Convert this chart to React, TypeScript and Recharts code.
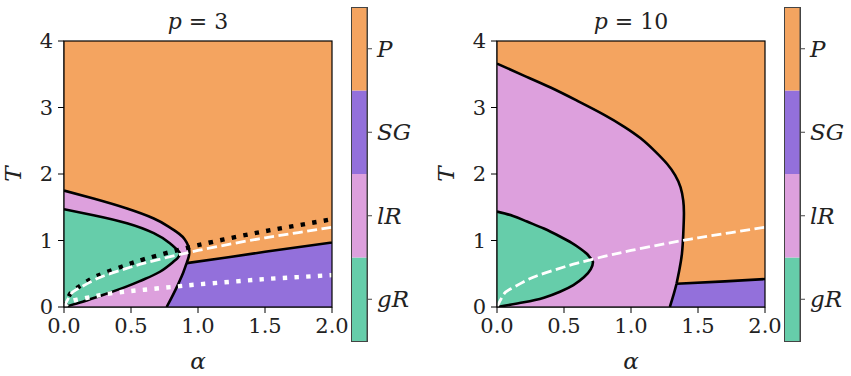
import React from 'react'
import { ComposedChart, Scatter, XAxis, YAxis, BarChart, Bar } from 'recharts'

// phase colours
const P_COLOR = '#F4A460'
const SG_COLOR = '#9370DB'
const LR_COLOR = '#DDA0DD'
const GR_COLOR = '#66CDAA'

const FONT = '"DejaVu Serif", serif'

const alphaTicks = [0, 0.5, 1, 1.5, 2]
const tempTicks = [0, 1, 2, 3, 4]
const plotBox: [number, number][] = [[0, 0], [2, 0], [2, 4], [0, 4]]

// ---- p = 3 transition lines (alpha, T) ----
const p3Para: [number, number][] = [
  [0, 1.75], [0.22, 1.63], [0.47, 1.48], [0.67, 1.33], [0.78, 1.21], [0.86, 1.1],
  [0.9, 1.02], [0.925, 0.93], [0.935, 0.84], [0.93, 0.75], [0.915, 0.66],
]
const p3SGEdge: [number, number][] = [
  [0.915, 0.66], [0.89, 0.52], [0.86, 0.38], [0.83, 0.25], [0.8, 0.13], [0.766, 0],
]
const p3SGTop: [number, number][] = [[0.915, 0.66], [1.2, 0.74], [1.5, 0.83], [2, 0.97]]
const p3Glass: [number, number][] = [
  [0, 1.47], [0.22, 1.38], [0.47, 1.26], [0.67, 1.11], [0.79, 0.96], [0.85, 0.85],
  [0.866, 0.8], [0.85, 0.74], [0.816, 0.68], [0.716, 0.53], [0.59, 0.41], [0.47, 0.31],
  [0.29, 0.18], [0.14, 0.08], [0, 0],
]

// auxiliary curves sampled on a common alpha grid
const alphaGrid = [0, 0.05, 0.1, 0.2, 0.3, 0.45, 0.6, 0.8, 1.0, 1.25, 1.5, 1.75, 2.0]
const p3BlackDotted = [0, 0.21, 0.29, 0.42, 0.51, 0.62, 0.72, 0.83, 0.93, 1.04, 1.14, 1.23, 1.32]
const whiteDashed = [0, 0.19, 0.27, 0.38, 0.47, 0.57, 0.66, 0.76, 0.85, 0.95, 1.04, 1.12, 1.2]
const p3WhiteDotted = [0, 0.08, 0.11, 0.15, 0.19, 0.23, 0.26, 0.3, 0.34, 0.38, 0.42, 0.45, 0.48]

// ---- p = 10 transition lines ----
const p10Para: [number, number][] = [
  [0, 3.66], [0.2, 3.48], [0.4, 3.3], [0.6, 3.1], [0.8, 2.89], [0.95, 2.71], [1.07, 2.54],
  [1.18, 2.34], [1.27, 2.15], [1.33, 1.98], [1.37, 1.8], [1.39, 1.6], [1.395, 1.4],
  [1.39, 1.1], [1.38, 0.8], [1.36, 0.55], [1.34, 0.35],
]
const p10SGEdge: [number, number][] = [[1.34, 0.35], [1.32, 0.2], [1.29, 0]]
const p10SGTop: [number, number][] = [[1.34, 0.35], [1.7, 0.385], [2, 0.42]]
const p10Glass: [number, number][] = [
  [0, 1.435], [0.12, 1.37], [0.224, 1.285], [0.35, 1.18], [0.47, 1.06], [0.56, 0.96],
  [0.62, 0.88], [0.67, 0.8], [0.7, 0.73], [0.716, 0.68], [0.7, 0.57], [0.65, 0.45],
  [0.57, 0.33], [0.47, 0.23], [0.35, 0.14], [0.2, 0.07], [0, 0],
]

// colour bar, bottom to top
const phaseNames = ['gR', 'lR', 'SG', 'P']
const phaseColors = [GR_COLOR, LR_COLOR, SG_COLOR, P_COLOR]
const cbarData = [{ name: 'phase', gR: 1, lR: 1, SG: 1, P: 1 }]

const rev = (pts: [number, number][]) => [...pts].reverse()
const toPts = (pts: [number, number][]) => pts.map(([a, T]) => ({ a, T }))
const curve = (ys: number[]) => ys.map((T, i) => ({ a: alphaGrid[i], T }))

type Region = { pts: { a: number; T: number }[]; color: string }
type Stroke = {
  pts: { a: number; T: number }[]
  color: string
  width: number
  dash?: string
}

const p3Regions: Region[] = [
  { pts: toPts(plotBox), color: P_COLOR },
  { pts: toPts([[0, 0], ...rev(p3SGEdge), ...rev(p3Para)]), color: LR_COLOR },
  { pts: toPts([[2, 0], ...rev(p3SGTop), ...p3SGEdge]), color: SG_COLOR },
  { pts: toPts(p3Glass), color: GR_COLOR },
]
const p3Strokes: Stroke[] = [
  { pts: toPts(p3Para), color: '#000', width: 2.6 },
  { pts: toPts(p3SGEdge), color: '#000', width: 2.6 },
  { pts: toPts(p3SGTop), color: '#000', width: 2.6 },
  { pts: toPts(p3Glass), color: '#000', width: 2.6 },
  { pts: curve(p3BlackDotted), color: '#000', width: 4.4, dash: '4.4 7.3' },
  { pts: curve(p3WhiteDotted), color: '#fff', width: 4.4, dash: '4.4 7.3' },
  { pts: curve(whiteDashed), color: '#fff', width: 2.8, dash: '10 4.5' },
]

const p10Regions: Region[] = [
  { pts: toPts(plotBox), color: P_COLOR },
  { pts: toPts([[0, 0], ...rev(p10SGEdge), ...rev(p10Para)]), color: LR_COLOR },
  { pts: toPts([[2, 0], ...rev(p10SGTop), ...p10SGEdge]), color: SG_COLOR },
  { pts: toPts(p10Glass), color: GR_COLOR },
]
const p10Strokes: Stroke[] = [
  { pts: toPts(p10Para), color: '#000', width: 2.6 },
  { pts: toPts(p10SGEdge), color: '#000', width: 2.6 },
  { pts: toPts(p10SGTop), color: '#000', width: 2.6 },
  { pts: toPts(p10Glass), color: '#000', width: 2.6 },
  { pts: curve(whiteDashed), color: '#fff', width: 2.8, dash: '10 4.5' },
]

const tickStyle = { fontFamily: FONT, fontSize: 21, fill: '#222' }
const noMarker = () => <g />

function PhasePanel({ left, regions, strokes }: { left: number; regions: Region[]; strokes: Stroke[] }) {
  return (
    <div style={{ position: 'absolute', left, top: 0 }}>
      <ComposedChart width={362} height={376} margin={{ top: 41, right: 30, bottom: 29, left: 24 }}>
        {regions.map((r, i) => (
          <Scatter
            key={'r' + i}
            data={r.pts}
            shape={noMarker}
            line={{ fill: r.color, stroke: 'none' }}
            lineType="joint"
            isAnimationActive={false}
          />
        ))}
        {strokes.map((s, i) => (
          <Scatter
            key={'s' + i}
            data={s.pts}
            shape={noMarker}
            line={{ stroke: s.color, strokeWidth: s.width, strokeDasharray: s.dash, fill: 'none' }}
            lineType="joint"
            lineJointType="natural"
            isAnimationActive={false}
          />
        ))}
        <XAxis
          dataKey="a"
          type="number"
          domain={[0, 2]}
          ticks={alphaTicks}
          allowDataOverflow
          height={40}
          tickSize={6}
          tickMargin={5}
          tickFormatter={(v: number) => v.toFixed(1)}
          tick={tickStyle}
          axisLine={{ stroke: '#000' }}
          tickLine={{ stroke: '#000' }}
        />
        <YAxis
          dataKey="T"
          type="number"
          domain={[0, 4]}
          ticks={tempTicks}
          allowDataOverflow
          width={40}
          tickSize={6}
          tickMargin={5}
          tick={tickStyle}
          axisLine={{ stroke: '#000' }}
          tickLine={{ stroke: '#000' }}
        />
      </ComposedChart>
    </div>
  )
}

function ColorBar({ left }: { left: number }) {
  return (
    <div style={{ position: 'absolute', left, top: 0 }}>
      <BarChart width={93} height={376} data={cbarData} margin={{ top: 7, right: 0, bottom: 35, left: 11 }} barCategoryGap={0}>
        <XAxis dataKey="name" hide />
        <YAxis
          orientation="right"
          type="number"
          domain={[0, 4]}
          ticks={[0.5, 1.5, 2.5, 3.5]}
          width={66}
          tickSize={5}
          tickMargin={5}
          tickFormatter={(v: number) => phaseNames[Math.floor(v)]}
          tick={{ fontFamily: FONT, fontSize: 23, fontStyle: 'italic', fill: '#222' }}
          axisLine={{ stroke: '#444' }}
          tickLine={{ stroke: '#444' }}
        />
        {phaseNames.map((n, i) => (
          <Bar key={n} dataKey={n} stackId="c" fill={phaseColors[i]} isAnimationActive={false} />
        ))}
      </BarChart>
    </div>
  )
}

export default function App() {
  return (
    <div style={{ position: 'absolute', left: 0, top: 0, width: 851, height: 376, background: '#fff', fontFamily: FONT }}>
      <PhasePanel left={0} regions={p3Regions} strokes={p3Strokes} />
      <PhasePanel left={433} regions={p10Regions} strokes={p10Strokes} />
      <ColorBar left={340} />
      <ColorBar left={773} />
      <svg width={851} height={376} style={{ position: 'absolute', left: 0, top: 0, pointerEvents: 'none' }}>
        <rect x={64} y={41} width={268} height={266} fill="none" stroke="#000" strokeWidth={1.2} />
        <rect x={497} y={41} width={268} height={266} fill="none" stroke="#000" strokeWidth={1.2} />
        <g fontFamily={FONT} fill="#222">
          <text x={198} y={29} fontSize={22} textAnchor="middle">
            <tspan fontStyle="italic">p</tspan> = 3
          </text>
          <text x={631} y={29} fontSize={22} textAnchor="middle">
            <tspan fontStyle="italic">p</tspan> = 10
          </text>
          <text x={198} y={369} fontSize={23} fontStyle="italic" textAnchor="middle">α</text>
          <text x={631} y={369} fontSize={23} fontStyle="italic" textAnchor="middle">α</text>
          <text transform="translate(21,174) rotate(-90)" fontSize={23} fontStyle="italic" textAnchor="middle">T</text>
          <text transform="translate(454,174) rotate(-90)" fontSize={23} fontStyle="italic" textAnchor="middle">T</text>
        </g>
        <rect x={351.5} y={7.5} width={16} height={334} fill="none" stroke="#444" />
        <rect x={784.5} y={7.5} width={16} height={334} fill="none" stroke="#444" />
      </svg>
    </div>
  )
}
